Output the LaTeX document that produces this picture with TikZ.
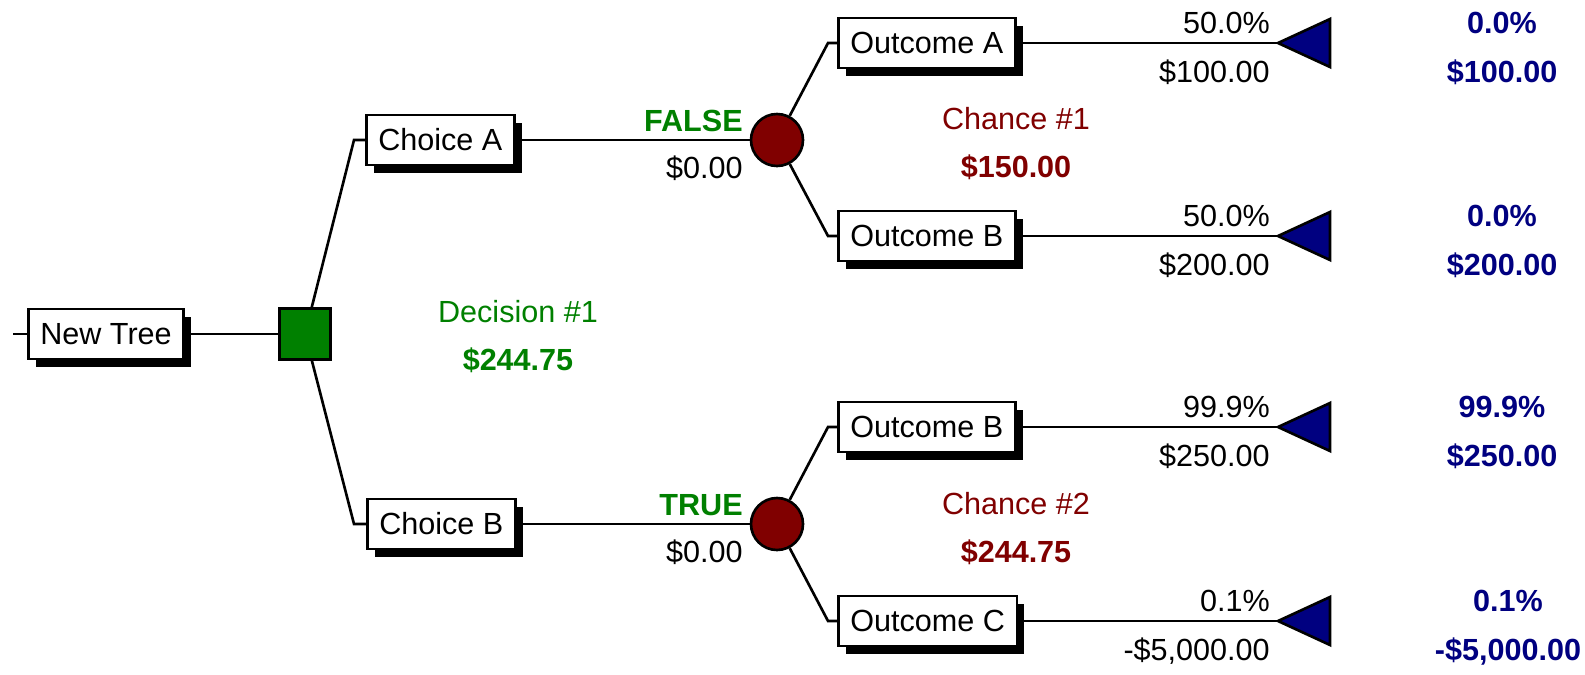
\documentclass[tikz,border=0pt]{standalone}
\usepackage{fontspec}
\setmainfont{Liberation Sans}
\usetikzlibrary{shadows}

\definecolor{decgreen}{RGB}{0,128,0}
\definecolor{chred}{RGB}{128,0,0}
\definecolor{endblue}{RGB}{0,0,128}

\begin{document}
\begin{tikzpicture}[x=0.02cm, y=-0.02cm, line width=1.5pt,
    font=\fontsize{17.4}{20}\selectfont,
    box/.style={draw, fill=white, anchor=west, minimum height=1cm, inner xsep=0.24cm,
                drop shadow={shadow xshift=0.15cm, shadow yshift=-0.15cm, opacity=1, fill=black}},
    decnode/.style={draw, fill=decgreen, minimum size=1.02cm, inner sep=0pt},
    chnode/.style={draw, circle, fill=chred, minimum size=1.04cm, inner sep=0pt},
    term/.style={draw, fill=endblue, line join=miter},
    rlab/.style={anchor=base east, inner sep=0pt},
    clab/.style={anchor=base, inner sep=0pt}]
   \useasboundingbox (0,0) rectangle (1585,674);
   % tree nodes
   \coordinate (root) at (13,334);
   \node[box] (tree) at (27,334) {New Tree};
   \node[decnode] (dec) at (305,334) {};
   \coordinate (ja) at (354,140);
   \coordinate (jb) at (354,524);
   \node[box] (choicea) at (365,140) {Choice A};
   \node[box] (choiceb) at (366,524) {Choice B};
   \node[chnode] (ch1) at (777,140) {};
   \node[chnode] (ch2) at (777,524) {};
   \coordinate (j1a) at (828,43);
   \coordinate (j1b) at (828,236);
   \coordinate (j2b) at (828,427);
   \coordinate (j2c) at (828,621);
   \node[box] (outa) at (837,43) {Outcome A};
   \node[box] (outb1) at (837,236) {Outcome B};
   \node[box] (outb2) at (837,427) {Outcome B};
   \node[box] (outc) at (837,621) {Outcome C};
   % end nodes
   \foreach \n/\y in {ta/43, tb1/236, tb2/427, tc/621} {
     \coordinate (\n) at (1278,\y);
     \draw[term] (\n) -- ++(52,-24) -- ++(0,48) -- cycle;
   }
   % connectors
   \draw (root) -- (tree.west);
   \draw (tree.east) -- (dec);
   \draw (dec) -- (ja) -- (choicea.west);
   \draw (dec) -- (jb) -- (choiceb.west);
   \draw (choicea.east) -- (ch1);
   \draw (choiceb.east) -- (ch2);
   \draw (ch1) -- (j1a) -- (outa.west);
   \draw (ch1) -- (j1b) -- (outb1.west);
   \draw (ch2) -- (j2b) -- (outb2.west);
   \draw (ch2) -- (j2c) -- (outc.west);
   \draw (outa.east) -- (ta);
   \draw (outb1.east) -- (tb1);
   \draw (outb2.east) -- (tb2);
   \draw (outc.east) -- (tc);
   % branch labels
   \node[rlab, text=decgreen, font=\fontsize{17.4}{20}\selectfont\bfseries] (fa) at (744,131) {FALSE};
   \node[rlab] (pa) at (744,178) {\$0.00};
   \node[rlab, text=decgreen, font=\fontsize{17.4}{20}\selectfont\bfseries] (tr) at (744,515) {TRUE};
   \node[rlab] (pb) at (744,562) {\$0.00};
   \node[rlab] (p1) at (1271,33) {50.0\%};
   \node[rlab] (v1) at (1271,82) {\$100.00};
   \node[rlab] (p2) at (1271,226) {50.0\%};
   \node[rlab] (v2) at (1271,275) {\$200.00};
   \node[rlab] (p3) at (1271,417) {99.9\%};
   \node[rlab] (v3) at (1271,466) {\$250.00};
   \node[rlab] (p4) at (1271,611) {0.1\%};
   \node[rlab] (v4) at (1271,660) {-\$5,000.00};
   % node values
   \node[clab, text=decgreen] (dlab) at (518,322) {Decision \#1};
   \node[clab, text=decgreen, font=\fontsize{17.4}{20}\selectfont\bfseries] (dval) at (518,370) {\$244.75};
   \node[clab, text=chred] (c1lab) at (1016,129) {Chance \#1};
   \node[clab, text=chred, font=\fontsize{17.4}{20}\selectfont\bfseries] (c1val) at (1016,177) {\$150.00};
   \node[clab, text=chred] (c2lab) at (1016,514) {Chance \#2};
   \node[clab, text=chred, font=\fontsize{17.4}{20}\selectfont\bfseries] (c2val) at (1016,562) {\$244.75};
   % terminal results
   \begin{scope}[every node/.style={clab, text=endblue, font=\fontsize{17.4}{20}\selectfont\bfseries}]
    \node (r1) at (1502,33) {0.0\%};
    \node (s1) at (1502,82) {\$100.00};
    \node (r2) at (1502,226) {0.0\%};
    \node (s2) at (1502,275) {\$200.00};
    \node (r3) at (1502,417) {99.9\%};
    \node (s3) at (1502,466) {\$250.00};
    \node (r4) at (1508,611) {0.1\%};
    \node (s4) at (1508,660) {-\$5,000.00};
   \end{scope}
  \end{tikzpicture}
\end{document}
